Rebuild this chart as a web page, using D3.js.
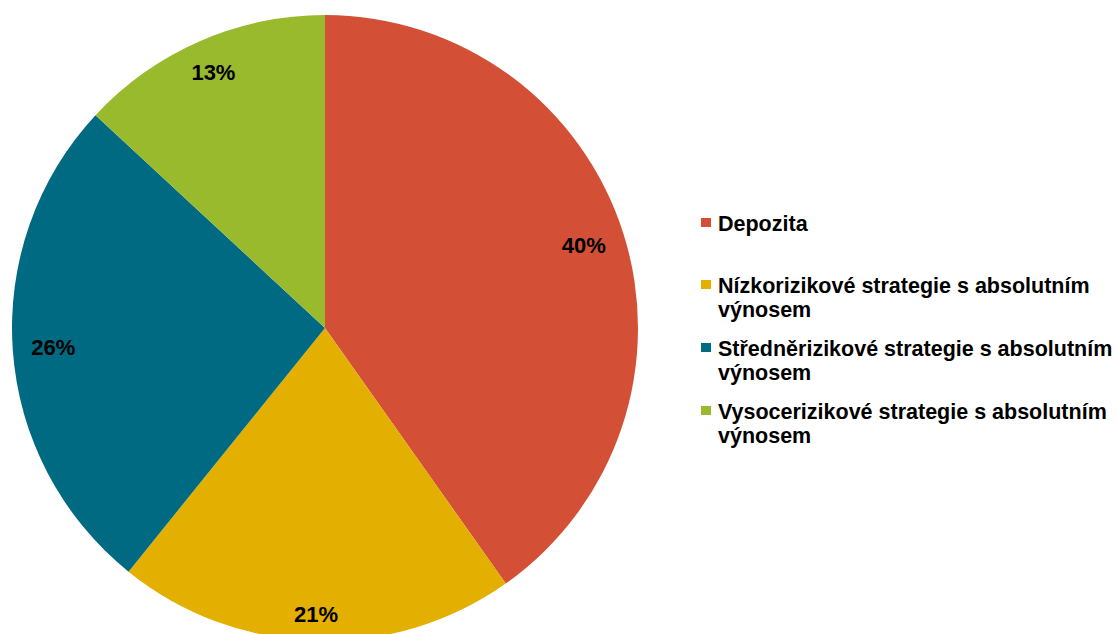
<!DOCTYPE html>
<html>
<head>
<meta charset="utf-8">
<script src="https://cdn.jsdelivr.net/npm/d3@7"></script>
<style>
  body { margin: 0; background: #fff; }
  svg { display: block; font-family: "Liberation Sans", Arial, sans-serif; }
</style>
</head>
<body>
<svg id="chart" width="1117" height="634"></svg>
<script>
// data
var categories = ["Depozita",
  "Nízkorizikové strategie s absolutním výnosem",
  "Středněrizikové strategie s absolutním výnosem",
  "Vysocerizikové strategie s absolutním výnosem"];
var values = [40.2, 20.6, 26.1, 13.1];
var labels = ["40%", "21%", "26%", "13%"];
var colors = ["#d35037", "#e3af00", "#006a83", "#99ba2d"];

var svg = d3.select("#chart");

var cx = 325, cy = 328, R = 313;
var labelSize = 22, pad = 18;

var pie = d3.pie().sort(null).value(function(d) { return d; });
var arcs = pie(values);

var arc = d3.arc().innerRadius(0).outerRadius(R);

var g = svg.append("g").attr("transform", "translate(" + cx + "," + cy + ")");

g.selectAll("path")
  .data(arcs)
  .enter().append("path")
    .attr("d", arc)
    .attr("fill", function(d, i) { return colors[i]; });

// labels placed inside, pushed toward the rim like excel's best fit
g.selectAll("text")
  .data(arcs)
  .enter().append("text")
    .attr("text-anchor", "middle")
    .attr("dy", "0.35em")
    .style("font-size", labelSize + "px")
    .style("font-weight", "bold")
    .attr("fill", "#000")
    .text(function(d, i) { return labels[i]; })
    .attr("transform", function(d) {
      var a = (d.startAngle + d.endAngle) / 2;
      var hw = this.getComputedTextLength() / 2;
      var hh = labelSize * 0.36;
      var r = R - (hw * Math.abs(Math.sin(a)) + hh * Math.abs(Math.cos(a))) - pad;
      return "translate(" + (r * Math.sin(a)) + "," + (-r * Math.cos(a)) + ")";
    });

// legend
var legendTops = [231, 293, 356, 419];
var legend = svg.append("g").attr("class", "legend");

var item = legend.selectAll("g")
  .data(categories)
  .enter().append("g")
    .attr("transform", function(d, i) { return "translate(701," + legendTops[i] + ")"; });

item.append("rect")
  .attr("x", 0)
  .attr("y", -13)
  .attr("width", 10)
  .attr("height", 9)
  .attr("fill", function(d, i) { return colors[i]; });

item.each(function(d) {
  var t = d3.select(this).append("text")
    .attr("x", 17)
    .style("font-size", "21.5px")
    .style("font-weight", "bold")
    .attr("fill", "#000");
  var parts = d.indexOf(" výnosem") > 0 ? [d.replace(" výnosem", ""), "výnosem"] : [d];
  parts.forEach(function(p, j) {
    t.append("tspan").attr("x", 17).attr("dy", j === 0 ? 0 : 24).text(p);
  });
});
</script>
</body>
</html>
